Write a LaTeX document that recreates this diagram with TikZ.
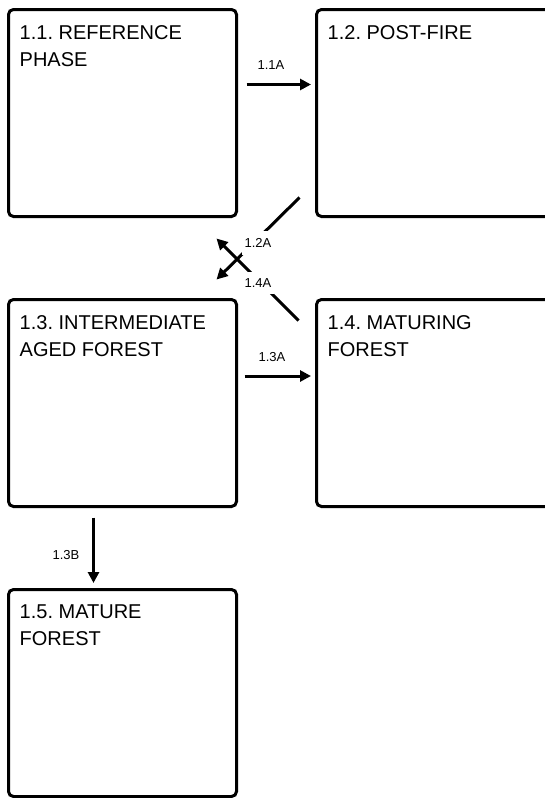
\documentclass[tikz,border=0pt]{standalone}
\usepackage{fontspec}
\setmainfont{Liberation Sans}
\frenchspacing
\usetikzlibrary{arrows.meta,calc}
\begin{document}
\begin{tikzpicture}[x=1pt,y=-1pt,
  box/.style={draw=black,line width=3pt,rounded corners=5pt,minimum width=228pt,minimum height=207pt,inner sep=0pt},
  title/.style={anchor=north west,inner sep=0pt,align=left,font=\fontsize{20}{27}\selectfont},
  arr/.style={line width=3pt,-{Triangle[length=11pt,width=11pt]}},
  lbl/.style={font=\fontsize{13}{15}\selectfont,inner sep=1pt},
  lblw/.style={lbl,fill=white,inner xsep=3pt,inner ysep=7pt}]
\useasboundingbox (0,0) rectangle (544,798);
\node[box] (b11) at (122.5,113) {};
\node[box,minimum width=234pt] (b12) at (433.5,113) {};
\node[box] (b13) at (122.5,403) {};
\node[box,minimum width=234pt] (b14) at (433.5,403) {};
\node[box] (b15) at (122.5,693) {};
\node[title] (t11) at ($(b11.north west)+(12.5,17)$) {1.1. REFERENCE\\PHASE};
\node[title] (t12) at ($(b12.north west)+(12.5,17)$) {1.2. POST-FIRE};
\node[title] (t13) at ($(b13.north west)+(12.5,17)$) {1.3. INTERMEDIATE\\AGED FOREST};
\node[title] (t14) at ($(b14.north west)+(12.5,17)$) {1.4. MATURING\\FOREST};
\node[title] (t15) at ($(b15.north west)+(12.5,17)$) {1.5. MATURE\\FOREST};
% 1.1A
\draw[arr] ($(b11.north east)+(8.5,76.5)$) -- ($(b12.north west)+(-4,76.5)$);
\node[lbl] (l11) at (271,65) {1.1A};
% 1.3A
\draw[arr] ($(b13.north east)+(6.5,78)$) -- ($(b14.north west)+(-4,78)$);
\node[lbl] (l13) at (272,357) {1.3A};
% 1.3B
\draw[arr] ($(b13.south west)+(86.5,9.5)$) -- ($(b15.north west)+(86.5,-5)$);
\node[lbl] (l13b) at (66,555) {1.3B};
% 1.2A and 1.4A
\draw[arr] ($(b12.south west)+(-15.5,-20.5)$) -- ($(b13.north east)+(-21.5,-18.5)$);
\draw[arr] ($(b14.north west)+(-16.5,22.5)$) -- ($(b11.south east)+(-21.5,20.5)$);
\node[lblw] (l12) at (258,243) {1.2A};
\node[lblw] (l14) at (258,283) {1.4A};
\end{tikzpicture}
\end{document}
